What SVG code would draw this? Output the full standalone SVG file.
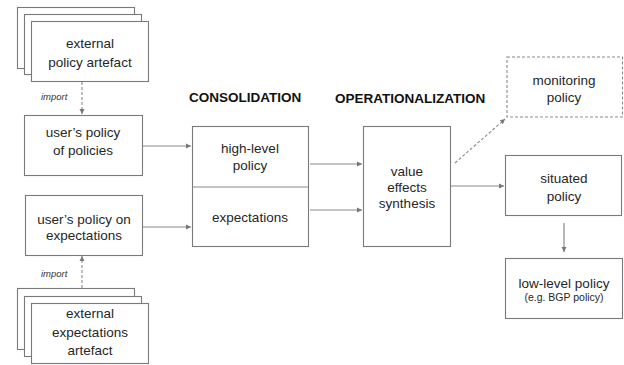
<svg xmlns="http://www.w3.org/2000/svg" width="624" height="365" viewBox="0 0 624 365">
<style>
.box{fill:#fff;stroke:#7a7a7a;stroke-width:1.1}
.dbox{fill:#fff;stroke:#8a8a8a;stroke-width:1.1;stroke-dasharray:3 2}
.t{font-family:"Liberation Sans",Arial,sans-serif;font-size:13.5px;fill:#262626;text-anchor:middle}
.s{font-family:"Liberation Sans",Arial,sans-serif;font-size:10.5px;fill:#262626;text-anchor:middle}
.h{font-family:"Liberation Sans",Arial,sans-serif;font-size:13.5px;font-weight:bold;fill:#111}
.i{font-family:"Liberation Sans",Arial,sans-serif;font-size:9.5px;font-style:italic;fill:#333}
.c{fill:none;stroke:#8a8a8a;stroke-width:1.2}
.d{fill:none;stroke:#8a8a8a;stroke-width:1.1;stroke-dasharray:3 2}
</style>
<defs>
<marker id="a" markerWidth="6" markerHeight="6" refX="5" refY="3" orient="auto" markerUnits="userSpaceOnUse">
<path d="M0,0.5 L5,3 L0,5.5 Z" fill="#777"/>
</marker>
</defs>
<rect width="624" height="365" fill="#fff"/>
<g id="connectors">
<line class="d" x1="82" y1="82" x2="82" y2="114" marker-end="url(#a)"/>
<line class="d" x1="82" y1="288" x2="82" y2="256" marker-end="url(#a)"/>
<line class="c" x1="143" y1="146" x2="191" y2="146" marker-end="url(#a)"/>
<line class="c" x1="143" y1="227" x2="191" y2="227" marker-end="url(#a)"/>
<line class="c" x1="310" y1="164" x2="362" y2="164" marker-end="url(#a)"/>
<line class="c" x1="310" y1="210" x2="362" y2="210" marker-end="url(#a)"/>
<line class="c" x1="451" y1="186" x2="504" y2="186" marker-end="url(#a)"/>
<line class="c" x1="564" y1="223" x2="564" y2="252" marker-end="url(#a)"/>
<line class="d" x1="455" y1="163" x2="505" y2="119" marker-end="url(#a)"/>
<text class="i" x="41" y="100">import</text>
<text class="i" x="41" y="277">import</text>
</g>
<g id="external-policy-artefact">
<rect class="box" x="17.5" y="7.5" width="117" height="61"/>
<rect class="box" x="24.5" y="14.5" width="117" height="60"/>
<rect class="box" x="31.5" y="21.5" width="117" height="60"/>
<text class="t" x="90" y="48">external</text>
<text class="t" x="90" y="67">policy artefact</text>
</g>
<g id="users-policy-of-policies">
<rect class="box" x="24.5" y="115.5" width="118" height="60"/>
<text class="t" x="83" y="137">user’s policy</text>
<text class="t" x="83" y="155">of policies</text>
</g>
<g id="users-policy-on-expectations">
<rect class="box" x="25.5" y="195.5" width="117" height="60"/>
<text class="t" x="84" y="224">user’s policy on</text>
<text class="t" x="84" y="240">expectations</text>
</g>
<g id="external-expectations-artefact">
<rect class="box" x="17.5" y="288.5" width="117" height="61"/>
<rect class="box" x="24.5" y="296.5" width="117" height="60"/>
<rect class="box" x="31.5" y="303.5" width="117" height="60"/>
<text class="t" x="90" y="318">external</text>
<text class="t" x="90" y="337">expectations</text>
<text class="t" x="90" y="355">artefact</text>
</g>
<g id="consolidation">
<text class="h" x="189" y="102">CONSOLIDATION</text>
<rect class="box" x="192.5" y="126.5" width="116" height="120"/>
<line class="c" x1="192.5" y1="187" x2="308.5" y2="187"/>
<text class="t" x="250" y="153">high-level</text>
<text class="t" x="250" y="170">policy</text>
<text class="t" x="250" y="222">expectations</text>
</g>
<g id="operationalization">
<text class="h" x="335" y="103">OPERATIONALIZATION</text>
</g>
<g id="value-effects-synthesis">
<rect class="box" x="363.5" y="126.5" width="87" height="120"/>
<text class="t" x="407" y="176">value</text>
<text class="t" x="407" y="192">effects</text>
<text class="t" x="407" y="208">synthesis</text>
</g>
<g id="monitoring-policy">
<rect class="dbox" x="507" y="57" width="115.5" height="60"/>
<text class="t" x="564" y="85">monitoring</text>
<text class="t" x="564" y="102">policy</text>
</g>
<g id="situated-policy">
<rect class="box" x="505.5" y="155.5" width="116" height="60"/>
<text class="t" x="564" y="183">situated</text>
<text class="t" x="564" y="201">policy</text>
</g>
<g id="low-level-policy">
<rect class="box" x="505.5" y="258.5" width="117" height="60"/>
<text class="t" x="564" y="288">low-level policy</text>
<text class="s" x="564" y="301">(e.g. BGP policy)</text>
</g>
</svg>
